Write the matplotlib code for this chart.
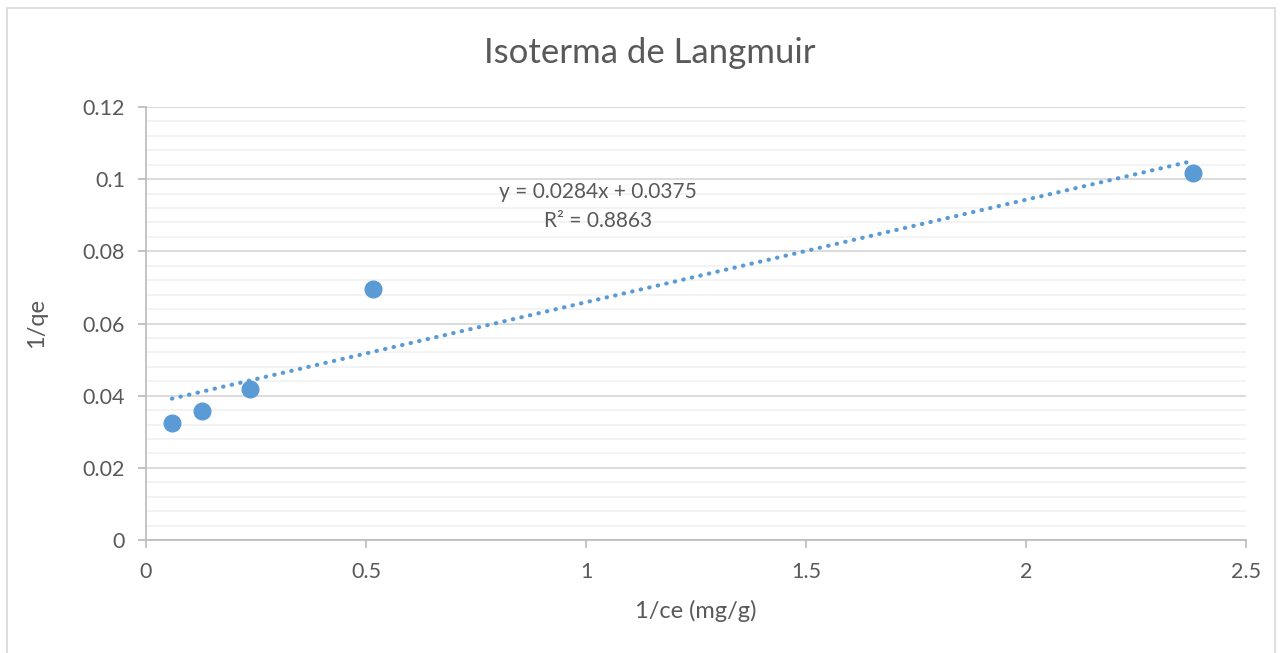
import numpy as np
import matplotlib.pyplot as plt
from matplotlib.patches import Rectangle
from matplotlib.ticker import MultipleLocator

plt.rcParams['font.family'] = ['Lato', 'DejaVu Sans']

# datos
inv_ce = [0.059, 0.127, 0.236, 0.516, 2.38]
inv_qe = [0.0324, 0.0358, 0.0419, 0.0696, 0.1017]
slope = 0.0284
intercept = 0.0375
r2 = 0.8863

text_col = "#595959"
blue = "#5B9BD5"

fig = plt.figure(figsize=(12.82, 6.53), dpi=100)
fig.patches.append(Rectangle((7 / 1282, -0.01), 1268 / 1282, 1 - 8 / 653 + 0.01,
                             transform=fig.transFigure, fill=False,
                             edgecolor="#D9D9D9", linewidth=1.2))
ax = fig.add_axes([146 / 1282, 113 / 653, 1100 / 1282, 433 / 653])

ax.set_xlim(0, 2.5)
ax.set_ylim(0, 0.12)
ax.xaxis.set_major_locator(MultipleLocator(0.5))
ax.yaxis.set_major_locator(MultipleLocator(0.02))
ax.yaxis.set_minor_locator(MultipleLocator(0.004))
ax.grid(which="major", axis="y", color="#D9D9D9", linewidth=1.3)
ax.grid(which="minor", axis="y", color="#F2F2F2", linewidth=1.3)
ax.set_axisbelow(True)

for s in ["top", "right"]:
    ax.spines[s].set_visible(False)
for s in ["left", "bottom"]:
    ax.spines[s].set_color("#BFBFBF")
    ax.spines[s].set_linewidth(1.3)

ax.tick_params(which="major", length=6, color="#BFBFBF", width=1.3,
               labelsize=15.5, labelcolor=text_col)
ax.tick_params(axis="x", pad=10)
ax.tick_params(axis="y", pad=9)
ax.tick_params(which="minor", length=0)

def fmt(v, pos):
    return ("%g" % round(v, 4))
ax.xaxis.set_major_formatter(plt.FuncFormatter(fmt))
ax.yaxis.set_major_formatter(plt.FuncFormatter(fmt))

xs = np.array([min(inv_ce), max(inv_ce)])
ax.plot(xs, slope * xs + intercept, color=blue, linewidth=3,
        linestyle=(0, (0.1, 2.0)), dash_capstyle="round", zorder=2)
ax.plot(inv_ce, inv_qe, "o", color=blue, markersize=12, zorder=3)

ax.text(1.027, 0.0965, "y = 0.0284x + 0.0375", ha="center", va="center",
        fontsize=15, color=text_col)
ax.text(1.027, 0.0885, "R² = %.4f" % r2, ha="center", va="center",
        fontsize=15, color=text_col)

ax.set_xlabel("1/ce (mg/g)", fontsize=17, color=text_col, labelpad=13)
ax.set_ylabel("1/qe", fontsize=17, color=text_col, labelpad=26)
fig.text(650 / 1282, 1 - 53 / 653, "Isoterma de Langmuir", ha="center",
         va="center", fontsize=25, color=text_col)

fig.savefig("out.png", dpi=100)
